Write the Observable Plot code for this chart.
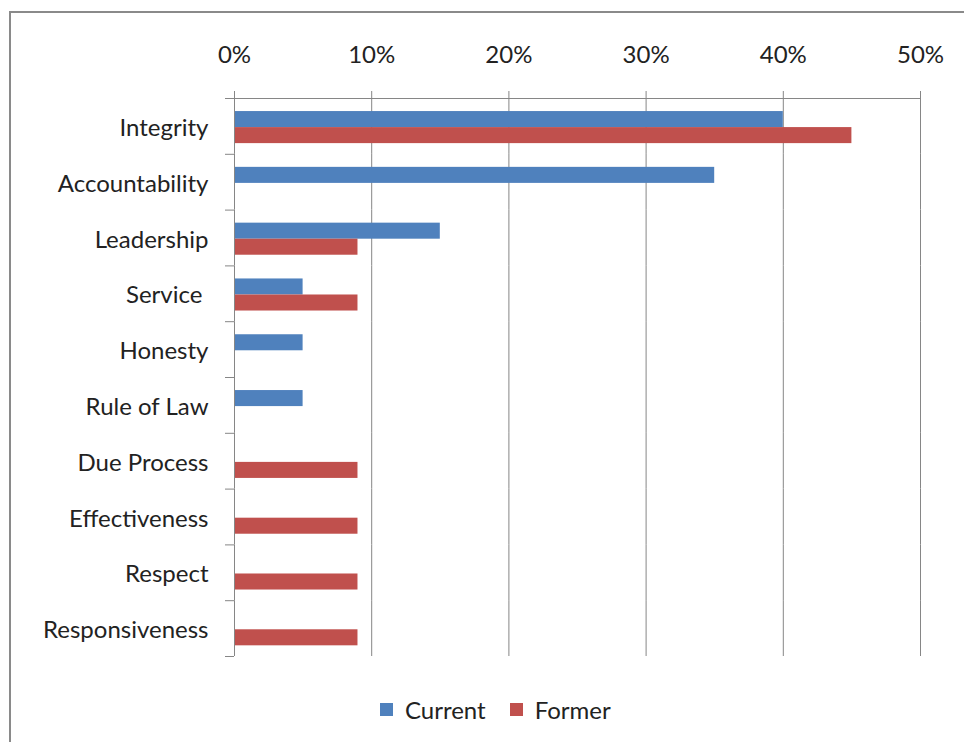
<!DOCTYPE html>
<html><head><meta charset="utf-8">
<script src="https://cdn.jsdelivr.net/npm/d3@7"></script>
<script src="https://cdn.jsdelivr.net/npm/@observablehq/plot@0.6"></script>
<style>
html,body{margin:0;padding:0;width:964px;height:742px;overflow:hidden;background:#fff;}
#frame{position:absolute;left:9px;top:11px;width:1200px;height:1200px;border-left:2px solid #8a8a8a;border-top:2px solid #8a8a8a;box-sizing:border-box;}
#chart{position:absolute;left:0;top:0;}
#legend{position:absolute;left:380px;top:693px;}
svg text{white-space:pre;}
</style></head><body>
<div id="frame"></div><div id="chart"></div><div id="legend"></div>
<script>
const categories = ["Integrity","Accountability","Leadership","Service ","Honesty","Rule of Law","Due Process","Effectiveness","Respect","Responsiveness"];
const series = ["Current","Former"];
const currentValues = [40,35,15,5,5,5,0,0,0,0];
const formerValues = [45,0,9,9,0,0,9,9,9,9];
const xTicks = [0,10,20,30,40,50];
const colors = ["#4F81BD","#C0504D"];

const data = categories.flatMap((c,i)=>[
  {category:c, series:series[0], value: currentValues[i]},
  {category:c, series:series[1], value: formerValues[i]}
]);

const font = "Lato, 'Open Sans', sans-serif";
const grey = "#868686";
const halfBand = (656-98)/categories.length/2;
const plot = Plot.plot({
  width: 964, height: 670,
  marginTop: 98, marginBottom: 14, marginLeft: 234, marginRight: 44,
  style: {background:"none", fontFamily: font, fontSize: "24px", overflow:"visible"},
  x: {domain:[0,50], ticks: xTicks, tickFormat: d=>d+"%", label:null},
  y: {domain: series, paddingInner: 0, paddingOuter: 0.74, align: 0.55, round:false, axis:null},
  fy: {domain: categories, padding: 0, round:false, label:null},
  color: {domain: series, range: colors},
  marks: [
    Plot.gridX(xTicks.slice(1), {stroke:grey, strokeOpacity:1}),
    Plot.barX(data, {x:"value", y:"series", fy:"category", fill:"series"}),
    Plot.ruleX([0], {stroke:grey}),
    Plot.frame({anchor:"top", facetAnchor:"top", stroke:grey}),
    Plot.axisX({anchor:"top", ticks:xTicks, tickSize:8, tickPadding:28, tickFormat:d=>d+"%", stroke:grey, fill:"#222", label:null}),
    Plot.axisFy({anchor:"left", tickSize:0, tickPadding:26, dy:2, fill:"#222", label:null}),
    Plot.axisFy({anchor:"left", tickSize:9, text:null, dy:-halfBand, stroke:grey, label:null}),
    Plot.axisFy({anchor:"left", ticks:[categories[categories.length-1]], tickSize:9, text:null, dy:halfBand, stroke:grey, label:null})
  ]
});
document.getElementById("chart").append(plot);

const leg = plot.legend("color", {swatchSize:13, className:"lg", style:{fontFamily:font, fontSize:"24px", color:"#222"}});
document.getElementById("legend").append(leg);
</script>
</body></html>
